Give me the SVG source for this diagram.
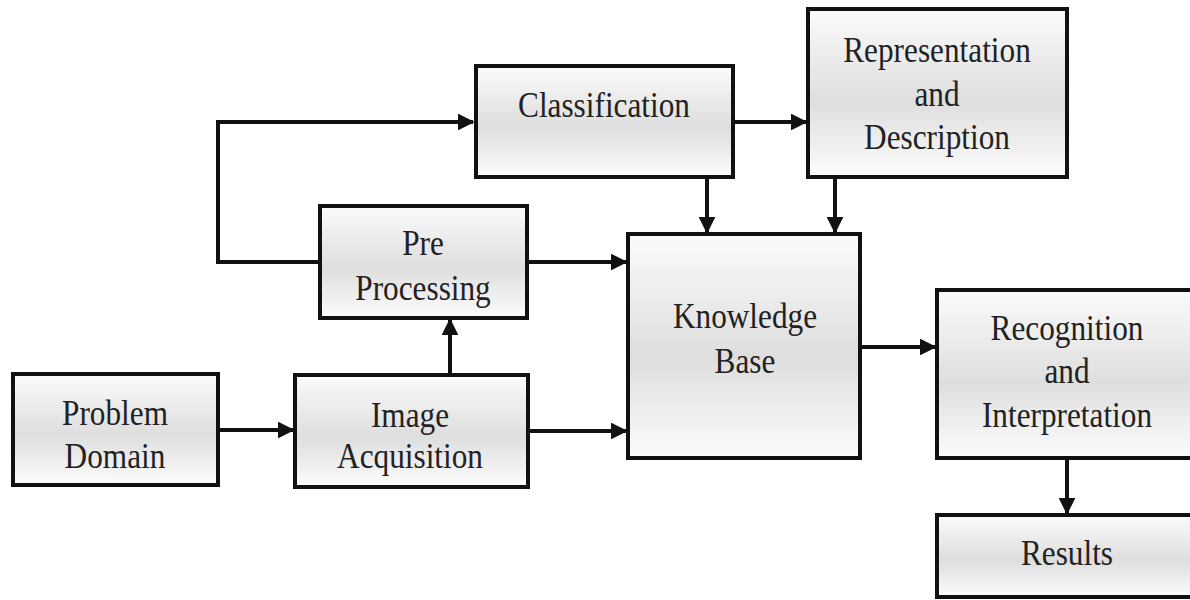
<svg xmlns="http://www.w3.org/2000/svg" width="1190" height="600" viewBox="0 0 1190 600">
<defs>
<linearGradient id="g" x1="0" y1="0" x2="0" y2="1">
<stop offset="0" stop-color="#fbfbfb"/>
<stop offset="0.55" stop-color="#dedede"/>
<stop offset="1" stop-color="#fcfcfc"/>
</linearGradient>
<marker id="ah" viewBox="0 0 10 10" refX="9" refY="5" markerWidth="4.2" markerHeight="4.2" orient="auto" markerUnits="strokeWidth">
<path d="M0,0 L10,5 L0,10 z" fill="#111"/>
</marker>
</defs>
<style>
.box{fill:url(#g);stroke:#111;stroke-width:4}
.t{font-family:"Liberation Serif","Times New Roman",serif;font-size:34px;fill:#222;text-anchor:middle}
.c{fill:none;stroke:#111;stroke-width:4;marker-end:url(#ah)}
</style>
<rect width="1190" height="600" fill="#fff"/>
<g id="connectors">
<path class="c" d="M218,430 H293"/>
<path class="c" d="M450,375 V320"/>
<path class="c" d="M528,431 H626"/>
<path class="c" d="M527,262 H626"/>
<path class="c" d="M320,262 H218 V122 H473"/>
<path class="c" d="M733,122 H806"/>
<path class="c" d="M707,177 V232"/>
<path class="c" d="M835,177 V232"/>
<path class="c" d="M860,347 H935"/>
<path class="c" d="M1067,458 V513"/>
</g>
<g id="classification">
<rect class="box" x="476" y="66" width="257" height="111"/>
<text class="t" transform="translate(604,117) scale(0.92,1.06)">Classification</text>
</g>
<g id="representation">
<rect class="box" x="808" y="9" width="259" height="168"/>
<text class="t" transform="translate(937,62) scale(0.92,1.06)">Representation</text>
<text class="t" transform="translate(937,106) scale(0.92,1.06)">and</text>
<text class="t" transform="translate(937,149) scale(0.92,1.06)">Description</text>
</g>
<g id="preprocessing">
<rect class="box" x="320" y="206" width="207" height="112"/>
<text class="t" transform="translate(423,255) scale(0.92,1.06)">Pre</text>
<text class="t" transform="translate(423,300) scale(0.92,1.06)">Processing</text>
</g>
<g id="problem-domain">
<rect class="box" x="13" y="374" width="205" height="111"/>
<text class="t" transform="translate(115,425) scale(0.92,1.06)">Problem</text>
<text class="t" transform="translate(115,468) scale(0.92,1.06)">Domain</text>
</g>
<g id="image-acquisition">
<rect class="box" x="295" y="375" width="233" height="112"/>
<text class="t" transform="translate(410,427) scale(0.92,1.06)">Image</text>
<text class="t" transform="translate(410,468) scale(0.92,1.06)">Acquisition</text>
</g>
<g id="knowledge-base">
<rect class="box" x="628" y="234" width="232" height="224"/>
<text class="t" transform="translate(745,328) scale(0.92,1.06)">Knowledge</text>
<text class="t" transform="translate(745,373) scale(0.92,1.06)">Base</text>
</g>
<g id="recognition">
<rect class="box" x="937" y="290" width="270" height="168"/>
<text class="t" transform="translate(1067,340) scale(0.92,1.06)">Recognition</text>
<text class="t" transform="translate(1067,383) scale(0.92,1.06)">and</text>
<text class="t" transform="translate(1067,427) scale(0.92,1.06)">Interpretation</text>
</g>
<g id="results">
<rect class="box" x="937" y="515" width="270" height="82"/>
<text class="t" transform="translate(1067,565) scale(0.92,1.06)">Results</text>
</g>
</svg>
